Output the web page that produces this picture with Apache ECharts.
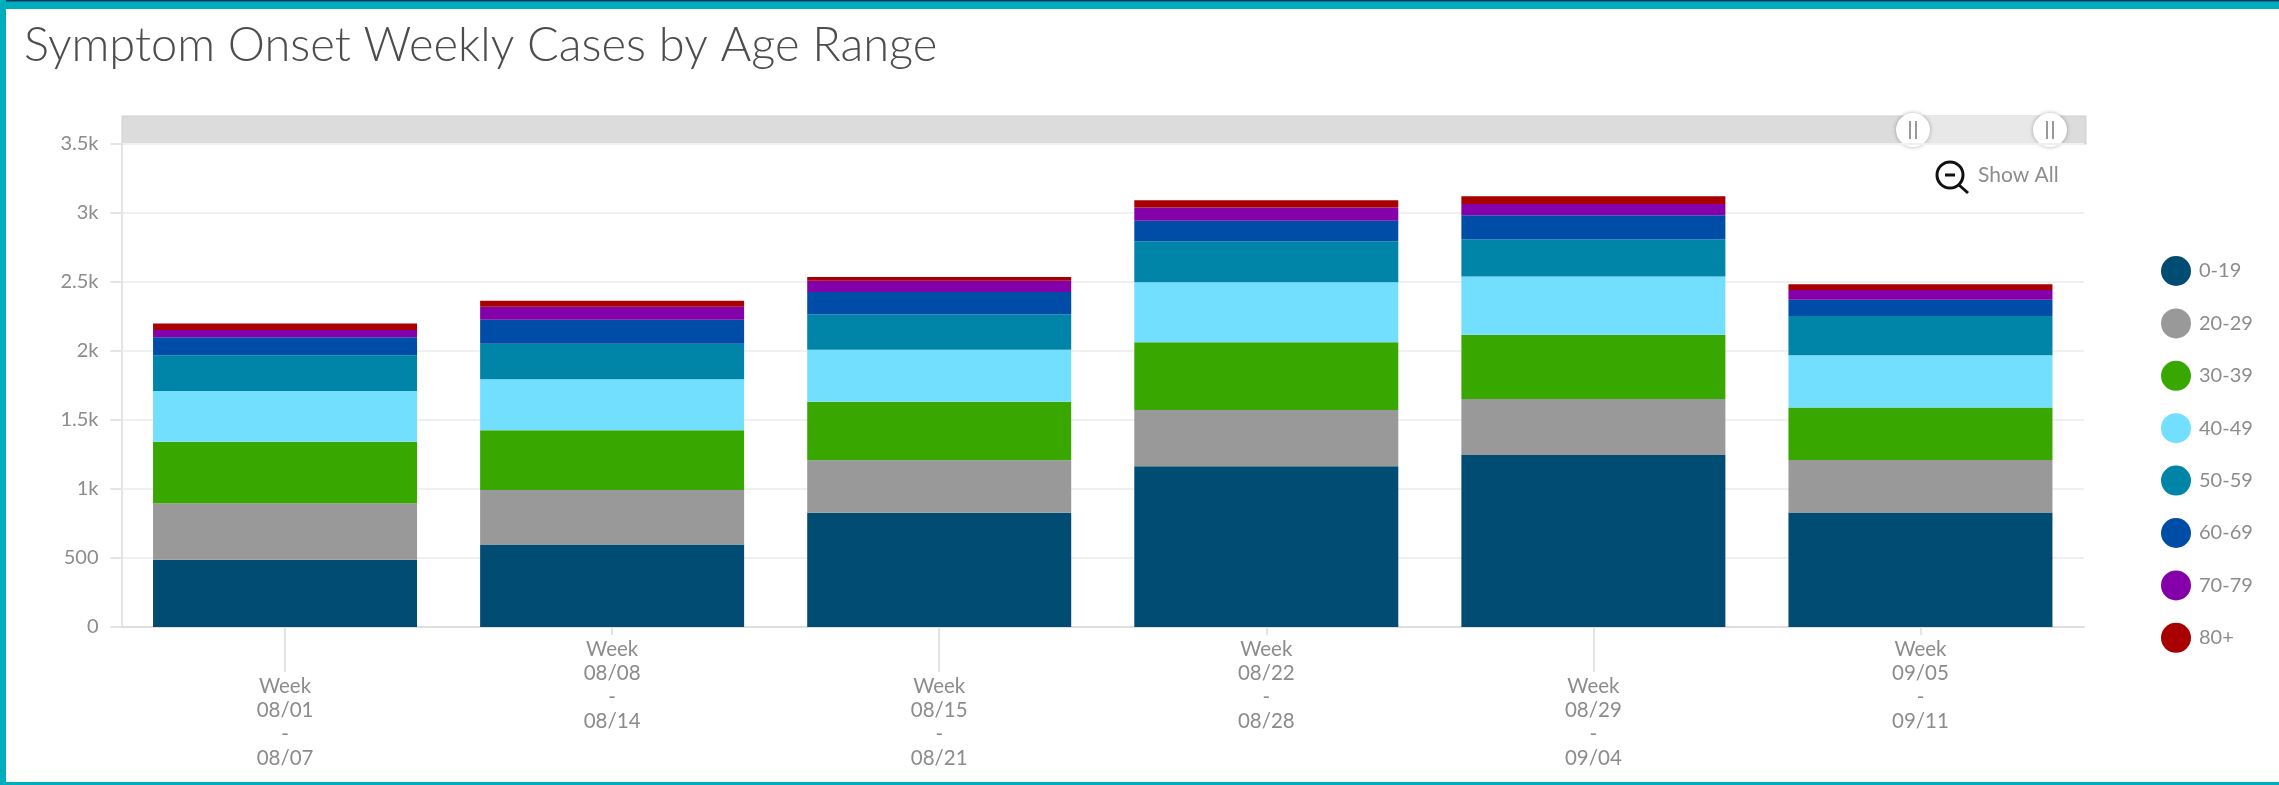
<!DOCTYPE html>
<html>
<head>
<meta charset="utf-8">
<title>Symptom Onset Weekly Cases by Age Range</title>
<style>
html, body { margin: 0; padding: 0; background: #fff; }
#main { width: 2279px; height: 785px; }
</style>
<script src="https://cdn.jsdelivr.net/npm/echarts@6/dist/echarts.min.js"></script>
</head>
<body>
<div id="main"></div>
<script>
var weeks = ['Week\n08/01\n-\n08/07', 'Week\n08/08\n-\n08/14', 'Week\n08/15\n-\n08/21', 'Week\n08/22\n-\n08/28', 'Week\n08/29\n-\n09/04', 'Week\n09/05\n-\n09/11'];
var ageNames = ['0-19', '20-29', '30-39', '40-49', '50-59', '60-69', '70-79', '80+'];
var ageColors = ['#004c73', '#999999', '#38a800', '#73dfff', '#0084a8', '#004da8', '#8400a8', '#a80000'];
var yTickLabels = ['0', '500', '1k', '1.5k', '2k', '2.5k', '3k', '3.5k'];

var age0to19 = [488, 597, 827, 1165, 1247, 829];
var age20to29 = [408, 396, 382, 408, 406, 382];
var age30to39 = [447, 433, 423, 491, 464, 379];
var age40to49 = [367, 370, 377, 435, 423, 379];
var age50to59 = [259, 256, 256, 297, 268, 285];
var age60to69 = [130, 174, 162, 147, 176, 118];
var age70to79 = [53, 94, 82, 97, 82, 70];
var age80plus = [48, 44, 27, 53, 56, 41];
var ageValues = [age0to19, age20to29, age30to39, age40to49, age50to59, age60to69, age70to79, age80plus];

var textColor = '#8c8c8c';
var lineColor = '#e4e4e4';
var frameColor = '#00adbd';
var fontName = 'Lato';

var myChart = echarts.init(document.getElementById('main'));

var series = [];
for (var i = 0; i < ageNames.length; i++) {
    series.push({
        name: ageNames[i],
        type: 'bar',
        stack: 'cases',
        barWidth: 264,
        itemStyle: { color: ageColors[i] },
        data: ageValues[i]
    });
}

// the labels are staggered, so each row gets its own axis
function xAxisFor(odd, tickLen, margin) {
    var keep = function (index) { return (index % 2 === 1) === odd; };
    return {
        type: 'category',
        position: 'bottom',
        data: weeks,
        axisLine: { show: !odd, lineStyle: { color: '#dedede', width: 2 } },
        axisTick: { show: true, alignWithLabel: true, length: tickLen, interval: keep, lineStyle: { color: lineColor, width: 2 } },
        axisLabel: {
            interval: keep,
            margin: margin,
            color: textColor,
            fontFamily: fontName,
            fontSize: 20.5,
            lineHeight: 24
        }
    };
}

// scrubber bar above the plot + zoom button
function scrubHandle(x) {
    return {
        type: 'group',
        children: [
            { type: 'circle', shape: { cx: x, cy: 130, r: 17 }, style: { fill: '#fff', shadowBlur: 4, shadowColor: 'rgba(0,0,0,0.3)' } },
            { type: 'line', shape: { x1: x - 3, y1: 121, x2: x - 3, y2: 139 }, style: { stroke: '#999', lineWidth: 2 } },
            { type: 'line', shape: { x1: x + 3, y1: 121, x2: x + 3, y2: 139 }, style: { stroke: '#999', lineWidth: 2 } }
        ]
    };
}

var option = {
    animation: false,
    backgroundColor: '#fff',
    title: {
        text: 'Symptom Onset Weekly Cases by Age Range',
        left: 24,
        top: 22,
        padding: 0,
        textStyle: { color: '#4d4d4d', fontFamily: fontName, fontWeight: 300, fontSize: 47 }
    },
    legend: {
        orient: 'vertical',
        left: 2161,
        top: 256,
        padding: 0,
        icon: 'circle',
        itemWidth: 30,
        itemHeight: 30,
        itemGap: 22.4,
        textStyle: { color: textColor, fontFamily: fontName, fontSize: 20, padding: [2, 0, 0, 3] },
        data: ageNames
    },
    grid: { left: 121.5, right: 195, top: 144, bottom: 158 },
    xAxis: [xAxisFor(false, 45, 47), xAxisFor(true, 8, 10)],
    yAxis: {
        type: 'value',
        min: 0,
        max: 3500,
        interval: 500,
        axisLine: { show: true, lineStyle: { color: lineColor, width: 2 } },
        axisTick: { show: true, length: 11, lineStyle: { color: lineColor, width: 2 } },
        splitLine: { lineStyle: { color: '#f0f0f0', width: 2 } },
        axisLabel: {
            margin: 23,
            padding: [4, 0, 0, 0],
            color: textColor,
            fontFamily: fontName,
            fontSize: 20,
            formatter: function (value) { return yTickLabels[value / 500]; }
        }
    },
    series: series,
    graphic: [
        // frame
        { type: 'rect', shape: { x: 0, y: 0, width: 2279, height: 9 }, style: { fill: frameColor } },
        { type: 'rect', shape: { x: 0, y: 0, width: 2279, height: 1.5 }, style: { fill: '#0b3a5c' } },
        { type: 'rect', shape: { x: 0, y: 0, width: 6, height: 785 }, style: { fill: frameColor } },
        { type: 'rect', shape: { x: 0, y: 782, width: 2279, height: 3 }, style: { fill: frameColor } },
        // scrubber
        { type: 'rect', shape: { x: 122, y: 116, width: 1964, height: 28 }, style: { fill: '#dcdcdc', stroke: '#d0d0d0', lineWidth: 1 } },
        { type: 'rect', shape: { x: 1913, y: 116, width: 137, height: 28 }, style: { fill: '#e8e8e8' } },
        scrubHandle(1913),
        scrubHandle(2050),
        // show all
        { type: 'circle', shape: { cx: 1950, cy: 175, r: 13 }, style: { fill: 'none', stroke: '#111', lineWidth: 3 } },
        { type: 'line', shape: { x1: 1945, y1: 175, x2: 1955, y2: 175 }, style: { stroke: '#111', lineWidth: 3 } },
        { type: 'line', shape: { x1: 1959, y1: 185, x2: 1968, y2: 193 }, style: { stroke: '#111', lineWidth: 3 } },
        { type: 'text', x: 1978, y: 165, style: { text: 'Show All', fill: textColor, fontFamily: fontName, fontSize: 21 } }
    ]
};
myChart.setOption(option);
</script>
</body>
</html>
